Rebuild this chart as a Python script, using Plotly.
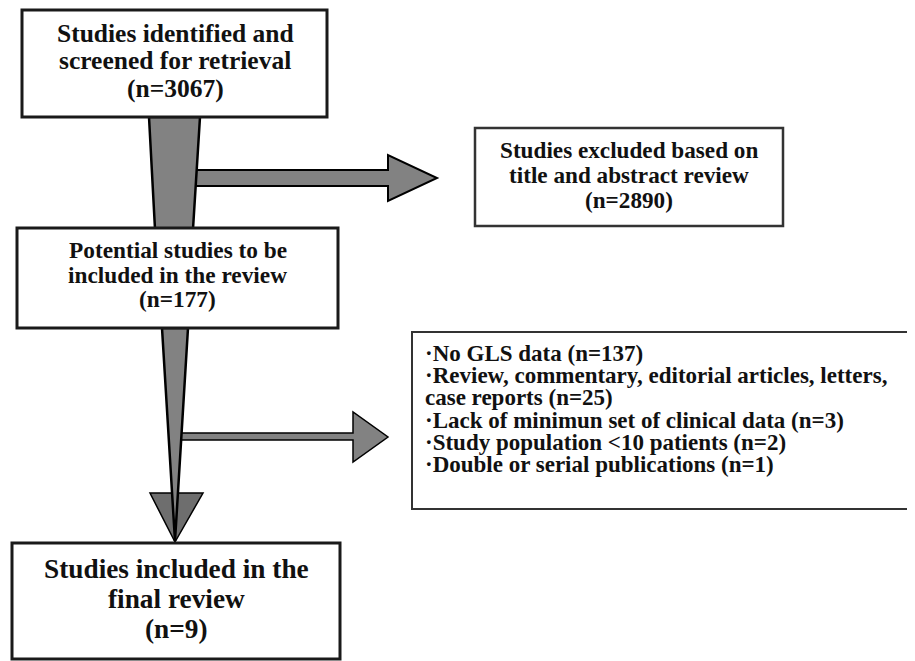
import plotly.graph_objects as go

# ---------------- data ----------------
stage_titles = [
    ["Studies identified and", "screened for retrieval"],
    ["Potential studies to be", "included in the review"],
    ["Studies included in the", "final review"],
]
stage_counts = [3067, 177, 9]

excluded_title = ["Studies excluded based on", "title and abstract review"]
excluded_count = 2890

reason_lines = [
    ["No GLS data"],
    ["Review, commentary, editorial articles, letters,", "case reports"],
    ["Lack of minimun set of clinical data"],
    ["Study population &lt;10 patients"],
    ["Double or serial publications"],
]
reason_counts = [137, 25, 3, 2, 1]

# ---------------- layout geometry (page pixels) ----------------
W, H = 915, 661
OFF = 8  # default body margin of the html page
FONT = "Liberation Serif, Times New Roman, serif"
TXT = "#111111"
GRAY = "#828282"

boxes = {
    "s1": dict(x0=22, y0=10, x1=327, y1=117, lw=3),
    "s2": dict(x0=17, y0=228, x1=338, y1=328, lw=3),
    "s3": dict(x0=12, y0=543, x1=340, y1=659, lw=3),
    "ex1": dict(x0=475, y0=128, x1=783, y1=226, lw=2.5),
    "ex2": dict(x0=412, y0=332, x1=930, y1=509, lw=2),
}

fig = go.Figure()
shapes = []

def poly(pts):
    return "M " + " L ".join(f"{x},{y}" for x, y in pts) + " Z"

# horizontal arrow 1 (drawn before tapered shaft)
shapes.append(dict(type="path", xref="x", yref="y",
                   path=poly([(194, 170), (388, 170), (388, 155), (437, 178),
                              (388, 201), (388, 186), (194, 186)]),
                   fillcolor=GRAY, line=dict(color="black", width=2)))
# tapered shaft 1
shapes.append(dict(type="path", xref="x", yref="y",
                   path=poly([(149, 117), (200, 117), (193, 229), (155, 229)]),
                   fillcolor=GRAY, line=dict(color="black", width=2.5)))
# horizontal arrow 2
shapes.append(dict(type="path", xref="x", yref="y",
                   path=poly([(180, 433), (353, 433), (353, 412), (388, 437),
                              (353, 462), (353, 440), (180, 440)]),
                   fillcolor=GRAY, line=dict(color="black", width=1.5)))
# arrow head 2
shapes.append(dict(type="path", xref="x", yref="y",
                   path=poly([(150, 493), (203, 493), (175, 542)]),
                   fillcolor="#6e6e6e", line=dict(color="black", width=1.5)))
# tapered shaft 2
shapes.append(dict(type="path", xref="x", yref="y",
                   path=poly([(162, 328), (188, 328), (175, 541)]),
                   fillcolor=GRAY, line=dict(color="black", width=2.5)))

for k, b in boxes.items():
    shapes.append(dict(type="rect", xref="x", yref="y",
                       x0=b["x0"], y0=b["y0"], x1=b["x1"], y1=b["y1"],
                       fillcolor="white",
                       line=dict(color="#1a1a1a" if k.startswith("s") else "#333333",
                                 width=b["lw"])))

annotations = []

def line(x, y, text, size, anchor="center"):
    annotations.append(dict(x=x, y=y, xref="x", yref="y", text=f"<b>{text}</b>",
                            showarrow=False, xanchor=anchor, yanchor="middle",
                            font=dict(family=FONT, size=size, color=TXT)))

# stage boxes
stage_cfg = [
    dict(cx=175, ys=[33.5, 60.5, 88], size=25.5),
    dict(cx=177.5, ys=[250, 275, 299], size=23.3),
    dict(cx=176, ys=[569, 599, 629], size=27.3),
]
for title, n, cfg in zip(stage_titles, stage_counts, stage_cfg):
    rows = title + [f"(n={n})"]
    for r, yy in zip(rows, cfg["ys"]):
        line(cfg["cx"], yy, r, cfg["size"])

# excluded box 1
for r, yy in zip(excluded_title + [f"(n={excluded_count})"], [150, 175, 200]):
    line(629, yy, r, 23.2)

# excluded box 2 (reasons)
ys = [353.5, 375.5, 397.5, 420, 442, 464]
i = 0
for lines_, n in zip(reason_lines, reason_counts):
    for j, l in enumerate(lines_):
        txt = l
        if j == 0:
            txt = "·" + txt
        if j == len(lines_) - 1:
            txt = txt + f" (n={n})"
        line(423, ys[i], txt, 23, anchor="left")
        i += 1

fig.update_layout(
    width=W, height=H,
    margin=dict(l=0, r=0, t=0, b=0),
    paper_bgcolor="white", plot_bgcolor="white",
    xaxis=dict(range=[OFF, W + OFF], visible=False, fixedrange=True),
    yaxis=dict(range=[H + OFF, OFF], visible=False, fixedrange=True),
    shapes=shapes, annotations=annotations,
    showlegend=False,
)

fig.write_html("out.html", config=dict(displayModeBar=False))
